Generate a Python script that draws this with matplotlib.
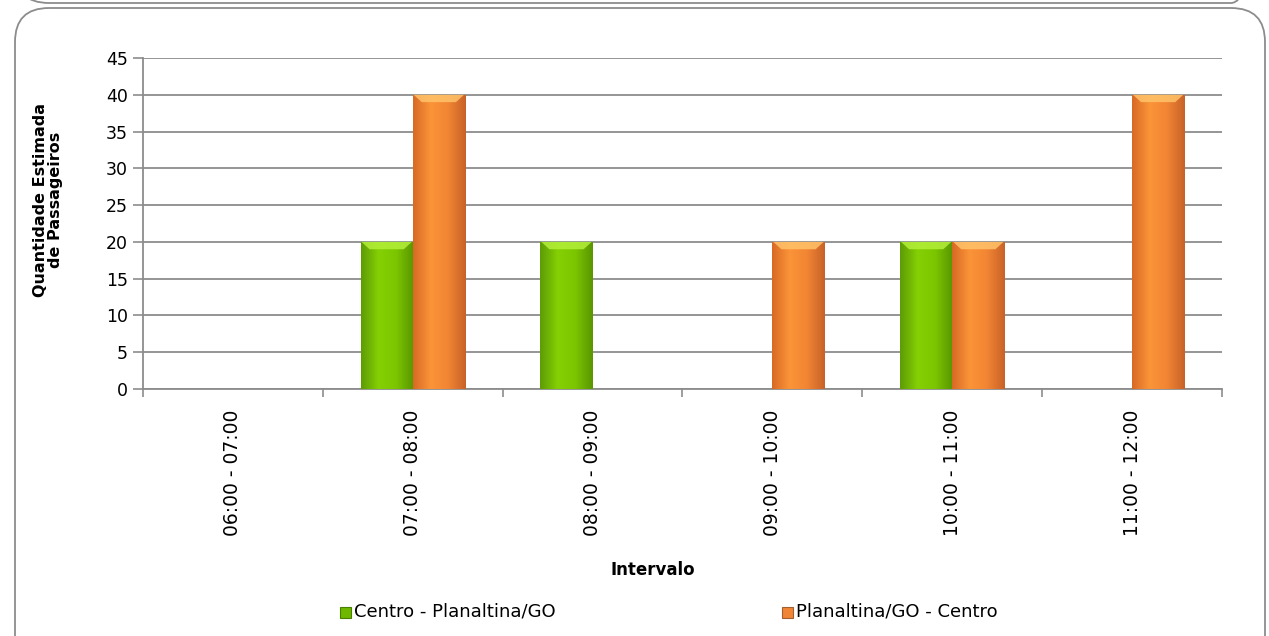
import matplotlib.pyplot as plt
import numpy as np
from matplotlib.patches import FancyBboxPatch
from matplotlib.colors import LinearSegmentedColormap

intervalos = ['06:00 - 07:00', '07:00 - 08:00', '08:00 - 09:00',
              '09:00 - 10:00', '10:00 - 11:00', '11:00 - 12:00']
centro_planaltina = [0, 20, 20, 0, 20, 0]
planaltina_centro = [0, 40, 0, 20, 20, 40]
series = ['Centro - Planaltina/GO', 'Planaltina/GO - Centro']

plt.rcParams['font.family'] = ['DejaVu Sans']

fig = plt.figure(figsize=(12.69, 6.36), dpi=100)

# camada de fundo em pixels para as molduras
bg = fig.add_axes([0, 0, 1, 1], zorder=-1)
bg.set_xlim(0, 1269)
bg.set_ylim(636, 0)
bg.axis('off')
bg.add_patch(FancyBboxPatch((15, 8), 1250, 680, boxstyle='round,pad=0,rounding_size=34',
                            fill=False, edgecolor='#8c8c8c', linewidth=1.3))
bg.add_patch(FancyBboxPatch((15, -300), 1250, 303, boxstyle='round,pad=0,rounding_size=34',
                            fill=False, edgecolor='#8c8c8c', linewidth=1.3))

ax = fig.add_axes([143 / 1269, 1 - 389 / 636, 1079 / 1269, 331 / 636])

x = np.arange(len(intervalos))
w = 0.29
verde = LinearSegmentedColormap.from_list('v', ['#5e9c06', '#84d004', '#7cc600', '#5a9600'])
laranja = LinearSegmentedColormap.from_list('l', ['#d86a25', '#fb9439', '#f28533', '#c86228'])
grad = np.linspace(0, 1, 64).reshape(1, -1)

for vals, cmap, off, topo in [(centro_planaltina, verde, -w / 2, '#b4ef3a'),
                              (planaltina_centro, laranja, w / 2, '#ffc36a')]:
    barras = ax.bar(x + off, vals, width=w, color='none', edgecolor='none', zorder=3)
    for b, v in zip(barras, vals):
        if v <= 0:
            continue
        x0 = b.get_x()
        im = ax.imshow(grad, cmap=cmap, aspect='auto', zorder=3,
                       extent=[x0, x0 + w, 0, v])
        im.set_clip_path(b)
        # bisel no topo
        ax.fill([x0 + 0.005, x0 + w - 0.005, x0 + w - 0.05, x0 + 0.05],
                [v, v, v - 1.0, v - 1.0], color=topo, alpha=0.85, zorder=4,
                linewidth=0)

ax.set_xlim(-0.5, len(intervalos) - 0.5)
ax.set_ylim(0, 45)
ax.set_yticks(range(0, 46, 5))
ax.set_xticks(x)
ax.set_xticklabels(intervalos, rotation=90, fontsize=13.5)
ax.set_xticks(np.arange(-0.5, len(intervalos), 1), minor=True)
ax.tick_params(axis='x', which='major', length=0, pad=15)
ax.tick_params(axis='x', which='minor', length=6, color='#8c8c8c', width=1.2)
ax.tick_params(axis='y', length=7, color='#8c8c8c', width=1.2, labelsize=12.5, pad=4)
ax.grid(axis='y', color='#8c8c8c', linewidth=1.3, zorder=0)
ax.set_axisbelow(True)
for s in ['top', 'right']:
    ax.spines[s].set_visible(False)
ax.spines['left'].set_color('#8c8c8c')
ax.spines['left'].set_linewidth(1.3)
ax.spines['bottom'].set_color('#8c8c8c')
ax.spines['bottom'].set_linewidth(1.3)

fig.text(653 / 1269, 1 - 570 / 636, 'Intervalo', ha='center', va='center',
         fontsize=12, fontweight='bold')
fig.text(48 / 1269, 1 - 200 / 636, 'Quantidade Estimada\nde Passageiros', rotation=90,
         ha='center', va='center', fontsize=11.5, fontweight='bold', linespacing=1.0)

# legenda
for xi, nome, cor in [(340, series[0], '#6fb800'), (782, series[1], '#f08535')]:
    fig.patches.append(plt.Rectangle((xi / 1269, 1 - 618 / 636), 11 / 1269, 11 / 636,
                                     transform=fig.transFigure, facecolor=cor,
                                     edgecolor='#a06030' if cor == '#f08535' else '#4a8000',
                                     linewidth=0.8))
    fig.text((xi + 14) / 1269, 1 - 612 / 636, nome, ha='left', va='center', fontsize=13)

fig.savefig('out.png', dpi=100)
